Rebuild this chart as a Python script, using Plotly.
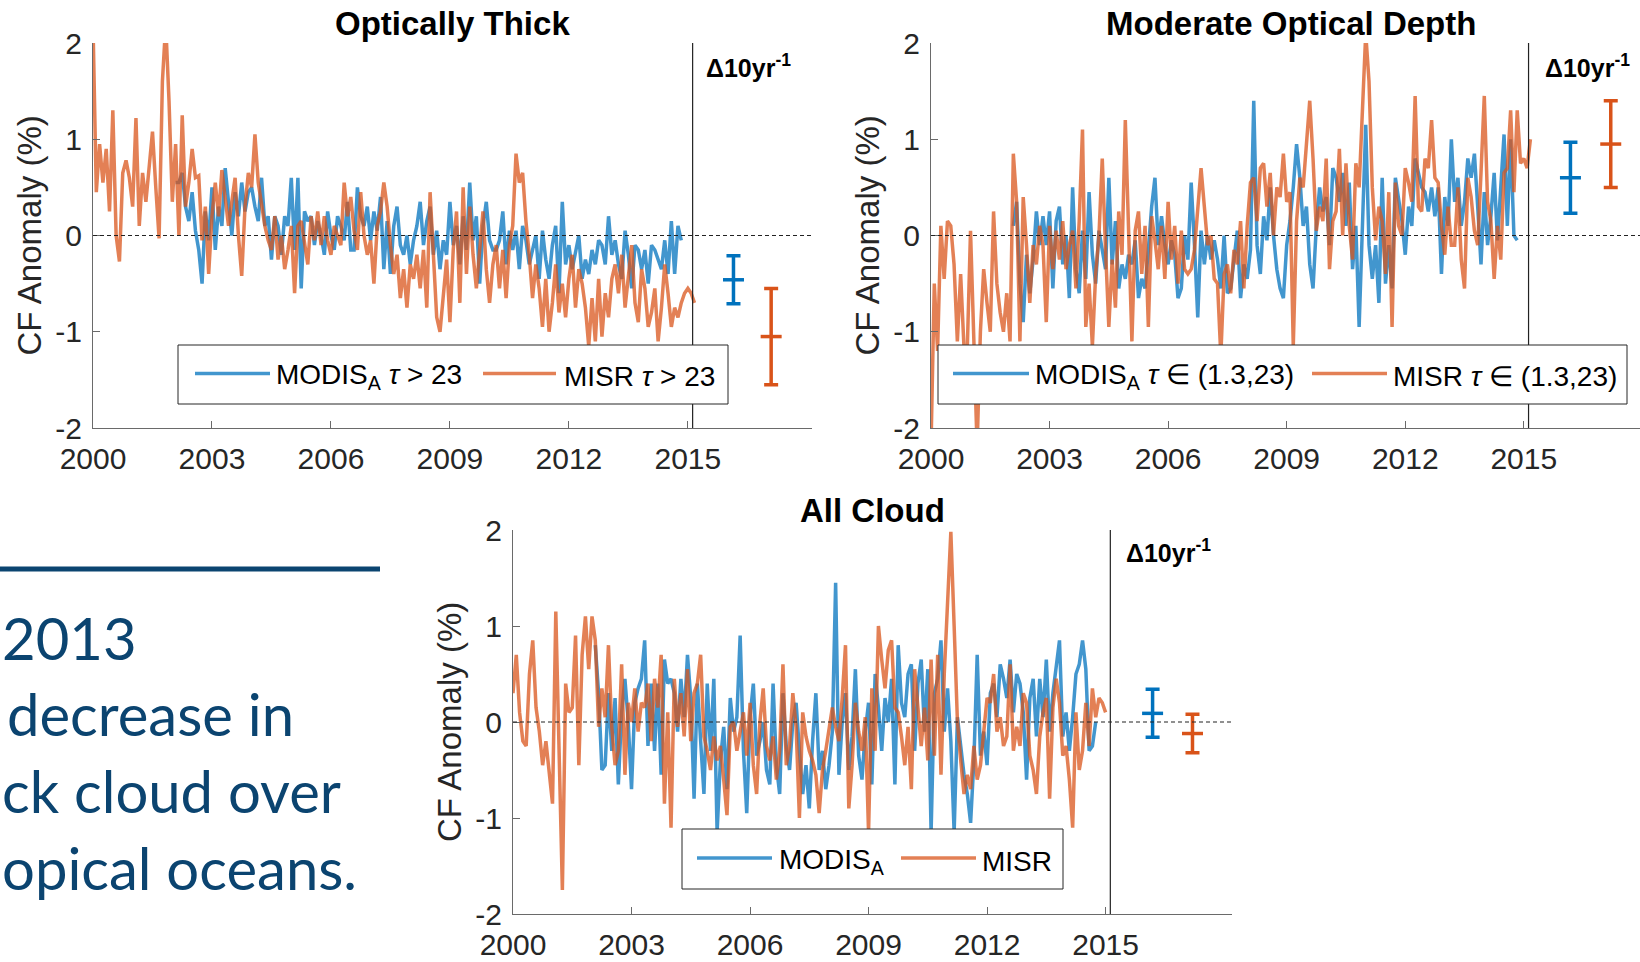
import plotly.graph_objects as go

W, H = 1640, 962

# ---------------- data (CF anomaly, %), monthly ----------------
# MISR series start Jan 2000, MODIS-Aqua series start Feb 2002 (month index 25)
MISR_START = 0
MODIS_START = 25

misr_thick = [
    2.2, 0.45, 0.95, 0.55, 0.9, 0.25, 1.3, 0.0, -0.27, 0.65,
    0.78, 0.6, 0.3, 1.22, 0.1, 0.65, 0.35, 0.7, 1.08, 0.5,
    -0.03, 1.6, 2.2, 1.4, 0.35, 0.95, 0.0, 1.25, 0.3, 0.55,
    0.9, 0.6, 0.62, -0.05, 0.3, -0.4, 0.2, 0.55, 0.2, 0.68,
    0.35, 0.1, 0.35, 0.6, 0.0, -0.42, 0.3, 0.65, 0.5, 1.05,
    0.55, 0.3, 0.1, -0.05, -0.15, 0.2, -0.25, 0.0, -0.35, -0.15,
    0.1, -0.6, 0.1, 0.15, -0.1, -0.3, 0.2, -0.05, 0.25, -0.1,
    0.2, -0.05, -0.2, 0.1, 0.0, -0.1, 0.55, 0.2, 0.4, 0.05,
    -0.15, 0.45, 0.0, -0.2, -0.05, -0.5, 0.1, 0.25, 0.55, 0.3,
    -0.1, -0.4, -0.2, -0.65, -0.35, -0.75, -0.3, -0.45, -0.2, -0.55,
    -0.15, -0.75, 0.45, -0.3, -0.85, -1.0, -0.6, -0.25, -0.9, -0.15,
    0.25, -0.7, 0.5, -0.4, 0.3, -0.2, -0.55, -0.1, 0.25, -0.35,
    -0.7, -0.3, -0.1, -0.55, -0.15, -0.65, -0.1, 0.1, 0.85, 0.55,
    0.65, 0.15, -0.2, -0.65, -0.3, -0.55, -0.95, -0.45, -1.0, -0.7,
    -0.3, -0.8, -0.5, -0.85, -0.45, -0.2, -0.75, -0.35, -0.5, -0.75,
    -1.15, -0.65, -1.1, -0.45, -1.05, -0.6, -0.85, -0.45, -0.3, -0.6,
    -0.2, -0.75, -0.4, -0.1, -0.7, -0.9, -0.35, -0.55, -0.95, -0.8,
    -0.55, -1.1, -0.75, -0.3, -0.6, -0.95, -0.75, -0.85, -0.7, -0.6,
    -0.55, -0.6, -0.7,
]
modis_thick = [
    0.55, 0.55, 0.65, 0.3, 0.15, 0.45, 0.05, -0.15, -0.5, 0.25,
    -0.05, 0.5, -0.15, 0.3, 0.1, 0.7, 0.35, 0.0, 0.45, 0.2,
    0.55, 0.25, 0.45, 0.5, 0.3, 0.15, 0.6, 0.1, 0.2, -0.25,
    0.2, 0.1, -0.2, 0.2, 0.1, 0.6, -0.15, 0.6, -0.55, 0.25,
    0.15, 0.2, -0.1, 0.15, 0.0, -0.2, 0.25, 0.0, -0.15, 0.2,
    0.1, -0.05, 0.35, -0.15, -0.15, 0.5, 0.2, 0.1, 0.3, -0.05,
    0.25, 0.05, 0.4, -0.35, 0.15, -0.4, 0.1, 0.3, -0.1, -0.2,
    0.0, -0.3, -0.05, 0.1, 0.35, -0.1, 0.15, 0.3, -0.2, 0.05,
    -0.35, -0.05, -0.2, 0.35, -0.1, 0.1, -0.3, 0.2, -0.15, 0.55,
    -0.05, 0.2, -0.5, 0.1, 0.35, -0.05, -0.15, -0.15, -0.05, 0.25,
    -0.3, 0.05, -0.15, 0.05, -0.35, 0.1, -0.05, -0.3, -0.15, 0.0,
    -0.45, 0.05, -0.25, -0.45, -0.1, 0.1, -0.6, 0.35, -0.3, -0.1,
    -0.35, -0.15, 0.0, -0.45, -0.25, -0.4, -0.15, -0.3, -0.05, -0.1,
    -0.3, 0.2, -0.2, -0.05, -0.3, -0.45, 0.05, -0.2, -0.55, -0.1,
    -0.15, -0.35, -0.15, -0.5, -0.1, -0.15, -0.25, -0.35, -0.05, -0.4,
    0.15, -0.4, 0.1, -0.05,
]

misr_moderate = [
    -2.2, -0.5, -1.2, 0.1, -0.45, 0.15, 0.1, -0.3, -1.1, -0.4,
    -1.15, -1.2, 0.05, -1.0, -2.2, -1.0, -0.35, -0.7, -1.0, 0.25,
    -0.5, -0.8, -1.0, -0.6, -1.1, 0.85, 0.35, -1.1, 0.4, -0.1,
    -0.7, -0.1, -0.3, 0.1, -0.1, -0.9, 0.1, -0.35, 0.05, -0.25,
    0.15, -0.35, -0.1, 0.05, -0.55, 0.15, 1.1, -0.95, -0.5, -1.15,
    -0.4, 0.0, 0.8, -0.15, -0.95, -0.25, -0.75, 0.25, -0.2, 1.2,
    -0.05, -1.1, 0.05, 0.25, -0.4, 0.1, -0.95, 0.2, -0.05, -0.35,
    0.1, -0.45, 0.35, -0.25, 0.1, -0.5, 0.05, -0.35, -0.4, -0.35,
    -0.15, 0.25, 0.7, 0.3, -0.1, 0.0, -0.45, -0.5, -1.25, -0.4,
    -0.3, -0.6, -0.15, -0.3, 0.15, -0.55, 0.1, 0.55, 0.6, 0.15,
    0.7, 0.75, 0.3, 0.65, 0.0, 0.5, 0.4, 0.85, 0.35, 0.45,
    -1.15, 0.15, 0.6, 0.5, 1.0, 1.4, 0.8, 0.05, 0.3, 0.15,
    0.8, -0.35, 0.15, 0.25, 0.9, 0.0, 0.75, 0.1, -0.25, 0.75,
    0.5, 1.25, 2.1, 1.6, 0.5, -0.05, 0.3, 0.15, -0.4, 0.45,
    -0.95, 0.55, 0.1, 0.0, 0.7, 0.55, 0.35, 1.45, 0.3, 0.25,
    0.8, 0.7, 1.2, 0.6, 0.55, 0.1, -0.2, 0.3, -0.1, -0.1,
    0.5, -0.25, -0.55, 0.6, 0.4, 0.05, -0.1, 0.65, 1.45, 0.35,
    0.15, -0.45, 0.1, -0.25, 0.65, 0.7, 1.3, 0.45, 1.3, 0.75,
    0.8, 0.7, 1.0,
]
modis_moderate = [
    0.1, 0.35, -0.5, -0.9, -0.2, -0.6, -0.25, 0.25, -0.1, 0.2,
    -0.1, 0.25, -0.55, 0.15, 0.3, -0.3, 0.0, -0.65, 0.5, -0.35,
    -0.6, 0.05, -0.45, 0.45, -0.2, -0.5, 0.05, -0.15, -0.35, 0.6,
    -0.3, 0.15, -0.55, -0.3, -0.45, -0.2, -0.3, -0.05, -0.65, -0.45,
    -0.55, -0.15, 0.3, 0.6, -0.1, 0.2, -0.1, -0.3, -0.05, -0.2,
    -0.65, -0.55, 0.0, -0.25, 0.55, -0.1, -0.85, 0.05, -0.3, 0.0,
    -0.25, -0.05, -0.25, -0.55, 0.0, -0.6, -0.55, -0.25, 0.05, -0.65,
    -0.3, -0.45, -0.15, 1.4, -0.1, -0.4, 0.2, -0.05, 0.5, 0.0,
    -0.35, -0.55, -0.65, -0.1, 0.15, 0.5, 0.95, 0.6, 0.1, 0.3,
    -0.3, -0.55, 0.1, 0.5, 0.25, 0.4, -0.1, 0.7, 0.6, 0.35,
    0.65, 0.1, 0.55, -0.35, 0.1, -0.95, 0.25, 1.15, -0.1, -0.45,
    -0.1, -0.7, 0.6, -0.5, -0.1, -0.55, 0.6, 0.35, 0.15, -0.2,
    0.3, 0.1, 0.8, 0.65, 0.5, 0.45, 0.25, 0.5, 0.2, 0.5,
    -0.4, 0.4, 0.1, 1.0, 0.35, 0.6, 0.1, 0.35, 0.8, 0.6,
    0.85, 0.3, -0.3, 0.45, -0.1, 0.2, 0.65, -0.05, 0.55, 1.05,
    0.1, 1.0, 0.0, -0.05,
]

misr_all = [
    0.3, 0.7, 0.1, -0.2, -0.25, 0.5, 0.85, 0.15, -0.1, -0.45,
    -0.2, -0.5, -0.85, 1.15, -0.2, -1.75, 0.4, 0.1, 0.15, 0.9,
    -0.45, 0.7, 1.1, 0.55, 1.1, 0.85, -0.05, 0.35, 0.05, 0.8,
    -0.05, -0.45, -0.3, 0.6, -0.55, 0.2, 0.0, 0.35, -0.1, 0.2,
    0.15, 0.4, -0.2, 0.45, 0.15, 0.7, -0.85, 0.1, -1.1, 0.45,
    -0.05, 0.3, -0.15, 0.55, -0.2, 0.3, 0.4, 0.7, -0.15, -0.3,
    -0.5, -0.15, -0.4, -0.25, -0.6, -0.97, -0.05, 0.0, -0.3, -0.1,
    0.1, -0.35, 0.2, -0.45, -0.75, 0.0, 0.35, -0.25, -0.4, -0.15,
    -0.6, -0.3, 0.6, -0.45, -0.25, 0.3, -0.05, -1.0, 0.1, -0.15,
    -0.3, -0.4, -0.55, -0.95, -0.5, -0.3, -0.1, 0.15, -0.05, -0.2,
    0.25, 0.8, -0.9, -0.45, 0.2, -0.1, -0.3, 0.05, -1.15, 0.35,
    -0.3, 1.0, 0.65, 0.35, 0.75, 0.85, 0.15, 0.1, -0.15, -0.45,
    -0.05, -0.7, 0.55, 0.1, -0.25, 0.15, -0.4, 0.65, -0.35, 0.7,
    -0.55, 0.5, 1.3, 1.98, 1.0, 0.0, -0.4, -0.75, -0.55, -0.7,
    -0.25, -0.6, -0.45, -0.1, 0.25, 0.2, 0.5, -0.1, 0.05, -0.25,
    -0.15, 0.6, -0.3, -0.05, -0.25, 0.3, 0.2, -0.35, -0.5, -0.75,
    -0.15, 0.1, 0.25, -0.8, 0.15, 0.45, 0.2, -0.35, -0.25, -0.6,
    -1.1, 0.1, -0.5, -0.3, 0.2, -0.25, 0.35, 0.05, 0.25, 0.2,
    0.1,
]
modis_all = [
    0.8, 0.3, -0.5, -0.45, 0.3, -0.3, 0.25, -0.65, 0.1, 0.45,
    0.0, -0.7, 0.2, 0.35, 0.45, 0.85, -0.25, 0.4, -0.3, 0.4,
    -0.55, 0.65, 0.4, 0.45, 0.3, -0.1, 0.45, 0.05, 0.7, 0.25,
    -0.8, 0.4, -0.2, -0.75, 0.4, -0.3, 0.45, -1.15, -0.4, -0.05,
    -0.7, 0.25, -0.1, 0.05, 0.9, -0.3, -0.95, 0.05, 0.4, -0.35,
    -0.2, 0.0, -0.5, -0.65, 0.4, -0.45, -0.75, 0.3, -0.25, -0.5,
    0.0, 0.2, -0.3, -0.75, -0.45, -0.9, -0.2, 0.3, -0.5, -0.3,
    -0.7, -0.45, -0.1, 1.45, -0.55, 0.0, 0.3, -0.5, -0.15, 0.55,
    -0.35, -0.6, -0.1, 0.2, -0.65, 0.5, 0.15, -0.3, 0.25, 0.0,
    0.45, -0.65, 0.8, 0.2, 0.05, 0.5, 0.6, -0.3, 0.4, 0.65,
    -0.1, 0.55, -1.15, 0.3, 0.45, 0.85, -0.1, 0.35, -0.2, -1.15,
    0.05, -0.25, -0.55, -0.75, -1.05, -0.4, 0.7, -0.35, -0.1, -0.45,
    0.3, 0.4, 0.05, 0.6, 0.45, 0.25, 0.65, 0.1, 0.5, 0.4,
    0.1, -0.6, 0.25, 0.45, -0.15, 0.45, 0.05, 0.65, -0.1, 0.3,
    0.55, 0.85, -0.15, 0.1, -0.3, 0.05, 0.5, 0.6, 0.85, 0.55,
    -0.3, -0.25, 0.0,
]

# decadal trend (centre, half-width) and where it is drawn
trend_x = {"thick": (2016.15, 2017.1), "moderate": (2016.18, 2017.2), "all": (2016.19, 2017.2)}
trend_modis = {"thick": (-0.46, 0.25), "moderate": (0.60, 0.37), "all": (0.09, 0.25)}
trend_misr = {"thick": (-1.05, 0.5), "moderate": (0.95, 0.45), "all": (-0.12, 0.2)}

year_ticks = [2000, 2003, 2006, 2009, 2012, 2015]
y_ticks = [-2, -1, 0, 1, 2]
y_labels = ["-2", "-1", "0", "1", "2"]
split_year = 2015.12

# ---------------- styling ----------------
BLUE = "#0072BD"
ORANGE = "#D95319"
BLUE_L = "rgba(0,114,189,0.74)"
ORANGE_L = "rgba(217,83,25,0.74)"
AX = "#262626"
FONT = "Liberation Sans, Arial, Helvetica, sans-serif"
NAVY = "#0b4470"


def px(x):
    return x / W


def py(y):
    return 1 - y / H


def months(start, n):
    return [2000 + (start + k) / 12 for k in range(n)]


panels = [
    dict(key="thick", title="Optically Thick", ax="", dx=(93, 812), dy=(43, 428), xmax=2018.13,
         misr=misr_thick, modis=modis_thick,
         box=(178, 345, 728, 404), leg=(195, 270, 274, 483, 556, 562),
         t_modis="MODIS<sub>A</sub> <i>τ</i> > 23", t_misr="MISR <i>τ</i> > 23",
         delta=(704, 66)),
    dict(key="moderate", title="Moderate Optical Depth", ax="2", dx=(931, 1640), dy=(43, 428), xmax=2017.94,
         misr=misr_moderate, modis=modis_moderate,
         box=(938, 345, 1627, 404), leg=(953, 1029, 1033, 1312, 1387, 1391),
         t_modis="MODIS<sub>A</sub> <i>τ</i> ∈ (1.3,23)", t_misr="MISR <i>τ</i> ∈ (1.3,23)",
         delta=(1543, 66)),
    dict(key="all", title="All Cloud", ax="3", dx=(513, 1232), dy=(530, 914), xmax=2018.2,
         misr=misr_all, modis=modis_all,
         box=(682, 829, 1063, 889), leg=(697, 772, 777, 901, 976, 980),
         t_modis="MODIS<sub>A</sub>", t_misr="MISR",
         delta=(1124, 551)),
]

fig = go.Figure()
shapes = []
annotations = []
layout_axes = {}

for p in panels:
    xa, ya = "x" + p["ax"], "y" + p["ax"]
    xname, yname = "xaxis" + p["ax"], "yaxis" + p["ax"]

    fig.add_trace(go.Scatter(
        x=months(MODIS_START, len(p["modis"])), y=p["modis"], mode="lines",
        line=dict(color=BLUE_L, width=3.5), xaxis=xa, yaxis=ya, showlegend=False, hoverinfo="skip"))
    fig.add_trace(go.Scatter(
        x=months(MISR_START, len(p["misr"])), y=p["misr"], mode="lines",
        line=dict(color=ORANGE_L, width=3.5), xaxis=xa, yaxis=ya, showlegend=False, hoverinfo="skip"))

    # trend with uncertainty
    for xpos, (c, e), col in [(trend_x[p["key"]][0], trend_modis[p["key"]], BLUE),
                              (trend_x[p["key"]][1], trend_misr[p["key"]], ORANGE)]:
        fig.add_trace(go.Scatter(
            x=[xpos], y=[c], mode="markers",
            marker=dict(symbol="line-ew", size=15, line=dict(color=col, width=3.5)),
            error_y=dict(type="constant", value=e, color=col, thickness=3.5, width=7),
            xaxis=xa, yaxis=ya, showlegend=False, hoverinfo="skip"))

    common = dict(ticks="inside", ticklen=7, tickwidth=1, tickcolor="#6a6a6a",
                  showline=True, linecolor="#6a6a6a", linewidth=1.3, showgrid=False, zeroline=False,
                  tickfont=dict(family=FONT, size=30, color=AX), automargin=False, fixedrange=True)
    layout_axes[xname] = dict(
        domain=[px(p["dx"][0]), px(p["dx"][1])], range=[2000, p["xmax"]], anchor=ya,
        tickvals=year_ticks, ticklabelstandoff=4, **common)
    layout_axes[yname] = dict(
        domain=[py(p["dy"][1]), py(p["dy"][0])], range=[-2, 2], anchor=xa,
        tickvals=y_ticks, ticktext=y_labels, ticklabelstandoff=4, **common)

    # zero line and split line
    shapes.append(dict(type="line", xref=xa, yref=ya, x0=2000, x1=p["xmax"], y0=0, y1=0,
                       line=dict(color="#222222", width=1.2, dash="4px,3px"), layer="above"))
    shapes.append(dict(type="line", xref=xa, yref=ya, x0=split_year, x1=split_year, y0=-2, y1=2,
                       line=dict(color="#222222", width=1.2), layer="above"))

    # legend box
    bx0, by0, bx1, by1 = p["box"]
    shapes.append(dict(type="rect", xref="paper", yref="paper", x0=px(bx0), x1=px(bx1), y0=py(by1), y1=py(by0),
                       fillcolor="white", line=dict(color=AX, width=1), layer="above"))
    ly = (by0 + by1) / 2 - 1
    l0, l1, t1, o0, o1, t2 = p["leg"]
    shapes.append(dict(type="line", xref="paper", yref="paper", x0=px(l0), x1=px(l1), y0=py(ly), y1=py(ly),
                       line=dict(color=BLUE_L, width=3.5), layer="above"))
    shapes.append(dict(type="line", xref="paper", yref="paper", x0=px(o0), x1=px(o1), y0=py(ly), y1=py(ly),
                       line=dict(color=ORANGE_L, width=3.5), layer="above"))
    for tx, txt in [(t1, p["t_modis"]), (t2, p["t_misr"])]:
        annotations.append(dict(x=px(tx), y=py(ly + 3), xref="paper", yref="paper", text=txt,
                                xanchor="left", yanchor="middle", showarrow=False,
                                font=dict(family=FONT, size=28, color="black")))

    # title, y label, delta label
    cx = (p["dx"][0] + p["dx"][0] + 719) / 2
    annotations.append(dict(x=px(cx), y=py(p["dy"][0] - 20), xref="paper", yref="paper",
                            text="<b>%s</b>" % p["title"], showarrow=False, xanchor="center", yanchor="middle",
                            font=dict(family=FONT, size=33, color="black")))
    annotations.append(dict(x=px(p["dx"][0] - 64), y=py((p["dy"][0] + p["dy"][1]) / 2), xref="paper", yref="paper",
                            text="CF Anomaly (%)", textangle=-90, showarrow=False,
                            xanchor="center", yanchor="middle",
                            font=dict(family=FONT, size=33, color=AX)))
    annotations.append(dict(x=px(p["delta"][0]), y=py(p["delta"][1]), xref="paper", yref="paper",
                            text="<b>Δ10yr<sup>-1</sup></b>", showarrow=False, xanchor="left", yanchor="middle",
                            font=dict(family=FONT, size=25, color="black")))

# slide text on the left (the figure edge cuts it in the original)
shapes.append(dict(type="line", xref="paper", yref="paper", x0=0, x1=px(380), y0=py(569), y1=py(569),
                   line=dict(color=NAVY, width=5)))
for txt, left, yc in [("2013", 0, 637), ("decrease in", 5, 713),
                      ("ck cloud over", 0, 790), ("opical oceans.", 0, 867)]:
    annotations.append(dict(x=px(left), y=py(yc), xref="paper", yref="paper", text=txt,
                            xanchor="left", yanchor="middle", showarrow=False,
                            font=dict(family="Lato, Noto Sans, sans-serif", size=58, color=NAVY)))

fig.update_layout(
    width=W, height=H, margin=dict(l=0, r=0, t=0, b=0, autoexpand=False),
    paper_bgcolor="white", plot_bgcolor="white",
    shapes=shapes, annotations=annotations, showlegend=False,
    **layout_axes,
)

# the page's default body margin would push the figure 8px off the window
fig.write_html("out.html", config={"displayModeBar": False},
               post_script="document.body.style.margin='0';")
